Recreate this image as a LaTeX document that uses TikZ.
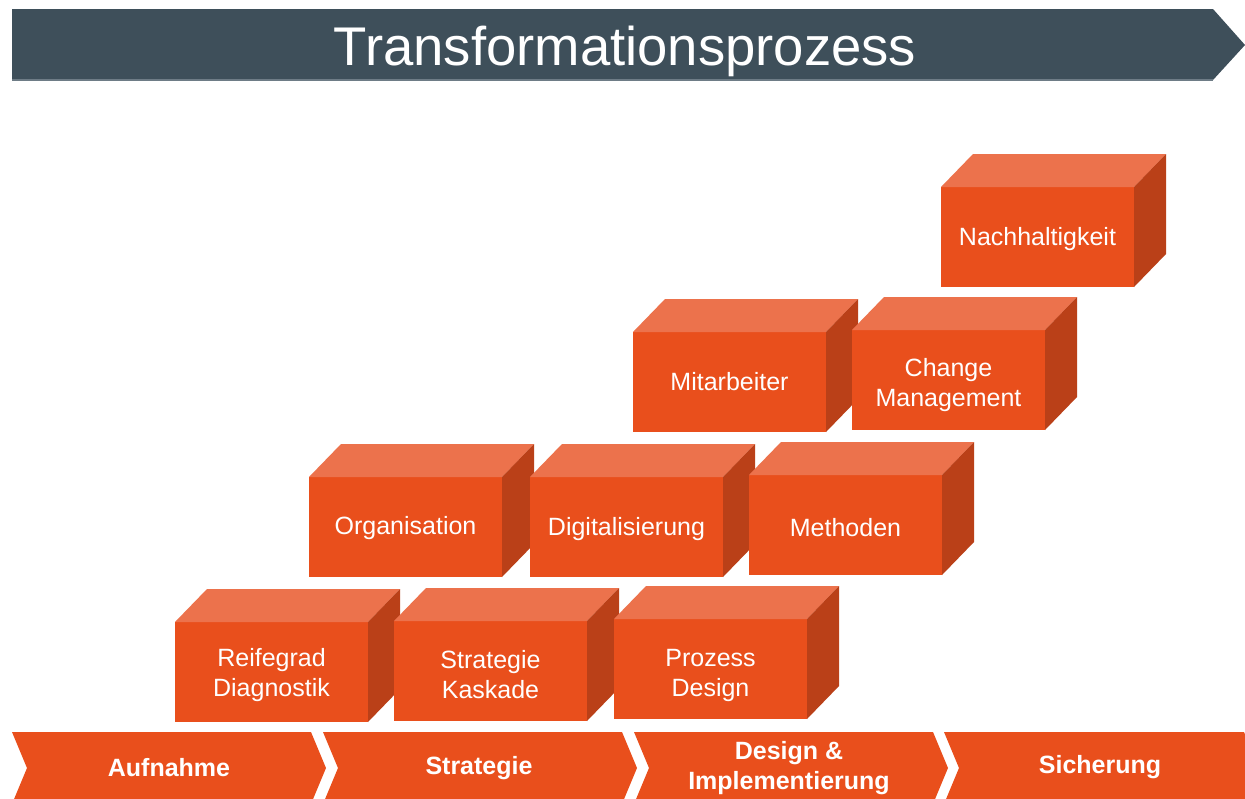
\documentclass[tikz,border=0pt]{standalone}
\usepackage{fontspec}
\setmainfont{Liberation Sans}
\definecolor{frontc}{HTML}{E94F1C}
\definecolor{topc}{HTML}{EC724C}
\definecolor{sidec}{HTML}{BA4018}
\definecolor{bannerc}{HTML}{3E4F5A}
\definecolor{bannerline}{HTML}{6E7C86}
\tikzset{
  front/.style={fill=frontc, inner sep=0pt, outer sep=0pt,
    minimum width=193pt, minimum height=100pt, anchor=north west},
  boxlabel/.style={text=white, align=center, inner sep=0pt,
    font=\fontsize{25}{30}\selectfont},
  topface/.style={fill=topc},
  sideface/.style={fill=sidec},
  chev/.style={fill=frontc},
  chevlabel/.style={text=white, align=center, font=\fontsize{25}{30}\selectfont\bfseries},
}
\newcommand{\cubebox}[5]{%
  \node[front] (#1) at (#2,#3) {};
  \fill[topface] (#1.north west) -- ++(32,-33) -- ++(193,0) -- (#1.north east) -- cycle;
  \fill[sideface] (#1.north east) -- ++(32,-33) -- ++(0,100) -- (#1.south east) -- cycle;
  \node[boxlabel, yshift=-#5pt] (#1-label) at (#1.center) {#4};
}
\begin{document}
\begin{tikzpicture}[x=1pt,y=-1pt]
\useasboundingbox (0,0) rectangle (1245,798);
\fill[white] (0,0) rectangle (1245,798);
% banner
\fill[bannerc] (12,9) -- (1213,9) -- (1245,45) -- (1213,80) -- (12,80) -- cycle;
\draw[bannerline, line width=1.2pt] (12,80) -- (1213,80);
\node[text=white, font=\fontsize{54.5}{60}\selectfont, inner sep=0pt, anchor=base] (title) at (625,65) {Transformationsprozess};
% boxes
\cubebox{nach}{941}{187}{Nachhaltigkeit}{2}
\cubebox{mit}{633}{332}{Mitarbeiter}{0}
\cubebox{change}{852}{330}{Change\\Management}{5}
\cubebox{org}{309}{477}{Organisation}{1}
\cubebox{dig}{530}{477}{Digitalisierung}{2}
\cubebox{meth}{749}{475}{Methoden}{3}
\cubebox{reif}{175}{622}{Reifegrad\\Diagnostik}{3}
\cubebox{strat}{394}{621}{Strategie\\Kaskade}{4}
\cubebox{proz}{614}{619}{Prozess\\Design}{6}
% chevrons
\foreach \L/\R in {12/311, 323/622, 634/933, 944/1244}{
  \fill[chev] (\L,732) -- (\R,732) -- (\R+15,768) -- (\R,804) -- (\L,804) -- (\L+15,768) -- cycle;
}
\node[chevlabel] (c1) at (169,768) {Aufnahme};
\node[chevlabel] (c2) at (479,768) {Strategie};
\node[chevlabel] (c3) at (789,768) {Design \&\\Implementierung};
\node[chevlabel] (c4) at (1100,767) {Sicherung};
\end{tikzpicture}
\end{document}
